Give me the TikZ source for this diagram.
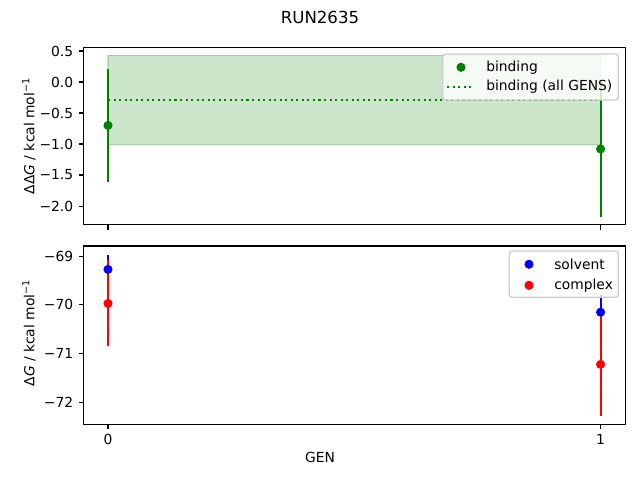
\documentclass[tikz,border=0pt]{standalone}
\usepackage{fontspec}
\setmainfont{DejaVu Sans}
\definecolor{mplgreen}{HTML}{008000}
\definecolor{mplblue}{HTML}{0000FF}
\definecolor{mplred}{HTML}{FF0000}
\begin{document}
\begin{tikzpicture}[x=0.01in,y=-0.01in,
		every node/.style={font=\fontsize{10}{12}\selectfont,inner sep=0pt},
		frame/.style={line width=0.8pt},
		tick/.style={line width=0.8pt},
		errbar/.style={line width=1.5pt},
		dot/.style={radius=3.3pt},
		lgdbox/.style={draw=black!20,line width=1pt,fill=white,fill opacity=0.8,rounded corners=2pt}]
		\useasboundingbox (0,0) rectangle (640,480);
		\node (title) at (320,17) {\fontsize{12}{14}\selectfont RUN2635};
		% upper axes (binding)
		\begin{scope}[shift={(108,82)},x=4.923in,y=0.62in]
			\fill[mplgreen,opacity=0.2] (0,-1.01) rectangle (1,0.43);
			\draw[mplgreen,opacity=0.2,line width=1pt] (0,-1.01) rectangle (1,0.43);
			\draw[errbar,mplgreen] (0,0.21) -- (0,-1.61);
			\draw[errbar,mplgreen] (1,0.01) -- (1,-2.17);
			\draw[mplgreen,line width=1.5pt,dash pattern=on 1.5pt off 2.5pt] (0,-0.29) -- (1,-0.29);
			\coordinate (B0) at (0,-0.70);
			\coordinate (B1) at (1,-1.08);
			\fill[mplgreen] (B0) circle[dot];
			\fill[mplgreen] (B1) circle[dot];
			\draw[frame] (-0.05,-2.30) rectangle (1.05,0.56);
			\foreach \v/\t [count=\i] in {0.5/0.5,0/0.0,-0.5/−0.5,-1/−1.0,-1.5/−1.5,-2/−2.0}
				\draw[tick] (-0.05,\v) -- ++(-3.5pt,0) node[anchor=east,xshift=-3.5pt] (ytop\i) {\t};
			\foreach \g in {0,1}
				\draw[tick] (\g,-2.30) -- ++(0,-3.5pt);
		\end{scope}
		\node[rotate=90] (ylabtop) at (29,136) {ΔΔ\textit{G} / kcal mol\textsuperscript{−1}};
		% legend of the upper axes
		\draw[lgdbox] (442.7,54) rectangle (618.3,100);
		\fill[mplgreen] (461,67.3) circle[dot];
		\node[anchor=west] (lbind) at (486,67.3) {binding};
		\draw[mplgreen,line width=1.5pt,dash pattern=on 1.5pt off 2.5pt] (447,86.7) -- (474,86.7);
		\node[anchor=west] (lall) at (486,86.7) {binding (all GENS)};
		% lower axes (solvent and complex)
		\begin{scope}[shift={(108,-3106)},x=4.923in,y=0.487in]
			\draw[errbar,mplblue] (0,-68.97) -- (0,-69.57);
			\draw[errbar,mplblue] (1,-69.80) -- (1,-70.50);
			\draw[errbar,mplred] (0,-69.08) -- (0,-70.84);
			\draw[errbar,mplred] (1,-70.16) -- (1,-72.28);
			\coordinate (S0) at (0,-69.27);
			\coordinate (S1) at (1,-70.15);
			\coordinate (C0) at (0,-69.97);
			\coordinate (C1) at (1,-71.22);
			\fill[mplblue] (S0) circle[dot];
			\fill[mplblue] (S1) circle[dot];
			\fill[mplred] (C0) circle[dot];
			\fill[mplred] (C1) circle[dot];
			\draw[frame] (-0.05,-72.45) rectangle (1.05,-68.79);
			\foreach \v [count=\i] in {69,70,71,72}
				\draw[tick] (-0.05,-\v) -- ++(-3.5pt,0) node[anchor=east,xshift=-3.5pt] (ybot\i) {−\v};
			\foreach \g in {0,1}
				\draw[tick] (\g,-72.45) -- ++(0,-3.5pt) node[anchor=north,yshift=-3.5pt] (xt\g) {\g};
		\end{scope}
		\node[rotate=90] (ylabbot) at (29,333) {Δ\textit{G} / kcal mol\textsuperscript{−1}};
		\node (xlab) at (320,457) {GEN};
		% legend of the lower axes
		\draw[lgdbox] (509.3,251) rectangle (618.3,297.3);
		\fill[mplblue] (529,264.3) circle[dot];
		\node[anchor=west] (lsolv) at (554,264.3) {solvent};
		\fill[mplred] (529,285.3) circle[dot];
		\node[anchor=west] (lcplx) at (554,285.3) {complex};
	\end{tikzpicture}
\end{document}
